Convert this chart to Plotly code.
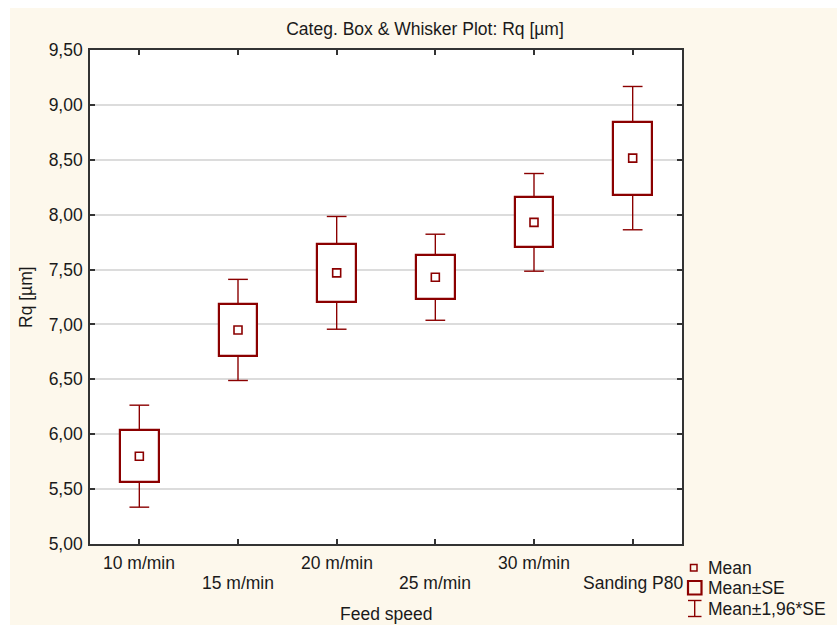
import plotly.graph_objects as go

# Rq by feed speed: category mean and standard error
categories = ["10 m/min", "15 m/min", "20 m/min", "25 m/min", "30 m/min", "Sanding P80"]
means = [5.80, 6.95, 7.47, 7.43, 7.93, 8.515]
std_errors = [0.237, 0.235, 0.262, 0.200, 0.227, 0.333]
y_ticks = [5.0, 5.5, 6.0, 6.5, 7.0, 7.5, 8.0, 8.5, 9.0, 9.5]

DARK_RED = "#8B0000"
CREAM = "#FDF8EC"
FONT = "Liberation Sans, Arial, sans-serif"
TEXT = "#1a1a1a"
FS = 17.5

W, H = 837, 625
L, R, T, B = 90, 682, 50, 544          # plot area edges in px
BOX_W = 0.39                            # box width in category units
CAP_HALF = 0.10                         # half width of whisker caps
Z = 1.96

def px_x(p):
    return (p - L) / (R - L)

def px_y(p):
    return (B - p) / (B - T)

xs = list(range(len(categories)))
lo_se = [m - s for m, s in zip(means, std_errors)]
hi_se = [m + s for m, s in zip(means, std_errors)]
lo_ci = [m - Z * s for m, s in zip(means, std_errors)]
hi_ci = [m + Z * s for m, s in zip(means, std_errors)]

fig = go.Figure()

# Mean ± SE boxes
fig.add_trace(go.Bar(
    x=xs, y=[h - l for h, l in zip(hi_se, lo_se)], base=lo_se, width=BOX_W,
    marker=dict(color="white", line=dict(color=DARK_RED, width=2.2)),
    showlegend=False, hoverinfo="skip",
))

# Whiskers (Mean ± 1.96*SE): stems from box edge to the cap, plus caps
wx, wy = [], []
for x, a, b, c, d in zip(xs, hi_se, hi_ci, lo_se, lo_ci):
    wx += [x, x, None, x, x, None,
           x - CAP_HALF, x + CAP_HALF, None, x - CAP_HALF, x + CAP_HALF, None]
    wy += [a, b, None, c, d, None, b, b, None, d, d, None]
fig.add_trace(go.Scatter(
    x=wx, y=wy, mode="lines", line=dict(color=DARK_RED, width=1.4),
    showlegend=False, hoverinfo="skip",
))

# Mean markers
fig.add_trace(go.Scatter(
    x=xs, y=means, mode="markers",
    marker=dict(symbol="square-open", size=8, color=DARK_RED, line=dict(width=1.6)),
    showlegend=False,
))

# Category labels, staggered over two rows
annotations = []
for i, name in enumerate(categories):
    annotations.append(dict(
        x=i, xref="x", y=px_y(563 if i % 2 == 0 else 583), yref="paper",
        text=name, showarrow=False, xanchor="center", yanchor="middle",
        font=dict(family=FONT, size=FS, color=TEXT),
    ))

# Axis titles
annotations.append(dict(
    x=px_x(386), y=px_y(614), xref="paper", yref="paper", text="Feed speed",
    showarrow=False, xanchor="center", yanchor="middle",
    font=dict(family=FONT, size=FS, color=TEXT),
))
annotations.append(dict(
    x=px_x(26), y=px_y(297), xref="paper", yref="paper", text="Rq [µm]",
    textangle=-90, showarrow=False, xanchor="center", yanchor="middle",
    font=dict(family=FONT, size=FS, color=TEXT),
))

# Legend entries
legend_rows = [("Mean", 568), ("Mean±SE", 588), ("Mean±1,96*SE", 609)]
for label, yc in legend_rows:
    annotations.append(dict(
        x=px_x(706), y=px_y(yc), xref="paper", yref="paper", text=label,
        showarrow=False, xanchor="left", yanchor="middle",
        font=dict(family=FONT, size=FS, color=TEXT),
    ))

shapes = [
    # white page margin at the left and top edges
    dict(type="rect", xref="paper", yref="paper", layer="below",
         x0=px_x(-5), x1=px_x(10), y0=px_y(W), y1=px_y(-5),
         fillcolor="white", line=dict(width=0)),
    dict(type="rect", xref="paper", yref="paper", layer="below",
         x0=px_x(-5), x1=px_x(W + 5), y0=px_y(8), y1=px_y(-5),
         fillcolor="white", line=dict(width=0)),
    # legend glyphs
    dict(type="rect", xref="paper", yref="paper",
         x0=px_x(690.5), x1=px_x(697), y0=px_y(571), y1=px_y(564.5),
         line=dict(color=DARK_RED, width=1.5)),
    dict(type="rect", xref="paper", yref="paper",
         x0=px_x(688), x1=px_x(701.5), y0=px_y(594.5), y1=px_y(581),
         line=dict(color=DARK_RED, width=2.2)),
    dict(type="line", xref="paper", yref="paper",
         x0=px_x(694.7), x1=px_x(694.7), y0=px_y(616.5), y1=px_y(600.5),
         line=dict(color=DARK_RED, width=1.4)),
    dict(type="line", xref="paper", yref="paper",
         x0=px_x(688), x1=px_x(701.5), y0=px_y(600.5), y1=px_y(600.5),
         line=dict(color=DARK_RED, width=1.4)),
    dict(type="line", xref="paper", yref="paper",
         x0=px_x(688), x1=px_x(701.5), y0=px_y(616.5), y1=px_y(616.5),
         line=dict(color=DARK_RED, width=1.4)),
]

fig.update_layout(
    width=W, height=H,
    margin=dict(l=L, r=W - R, t=T, b=H - B, pad=0),
    paper_bgcolor=CREAM, plot_bgcolor="white",
    separators=", ",
    font=dict(family=FONT, size=FS, color=TEXT),
    title=dict(text="Categ. Box & Whisker Plot: Rq [µm]", x=425 / W, xanchor="center",
               y=1 - 28.5 / H, yanchor="middle", xref="container", yref="container",
               font=dict(family=FONT, size=FS, color=TEXT)),
    showlegend=False,
    annotations=annotations,
    shapes=shapes,
    bargap=0,
)

fig.update_xaxes(
    range=[-0.5, len(categories) - 0.5], tickvals=xs, showticklabels=False,
    ticks="inside", ticklen=5, tickwidth=1.5, tickcolor="#333333",
    showline=True, linecolor="#333333", linewidth=1.6, mirror="ticks",
    showgrid=False, zeroline=False, fixedrange=True,
)
fig.update_yaxes(
    range=[5.0, 9.5], tickvals=y_ticks, tickformat=".2f",
    ticks="inside", ticklen=5, tickwidth=1.5, tickcolor="#333333",
    showline=True, linecolor="#333333", linewidth=1.6, mirror="ticks",
    showgrid=True, gridcolor="#DCDCDC", gridwidth=1.5, zeroline=False,
    ticklabelstandoff=2, tickfont=dict(family=FONT, size=FS, color=TEXT),
    fixedrange=True,
)

fig.write_html("out.html")
